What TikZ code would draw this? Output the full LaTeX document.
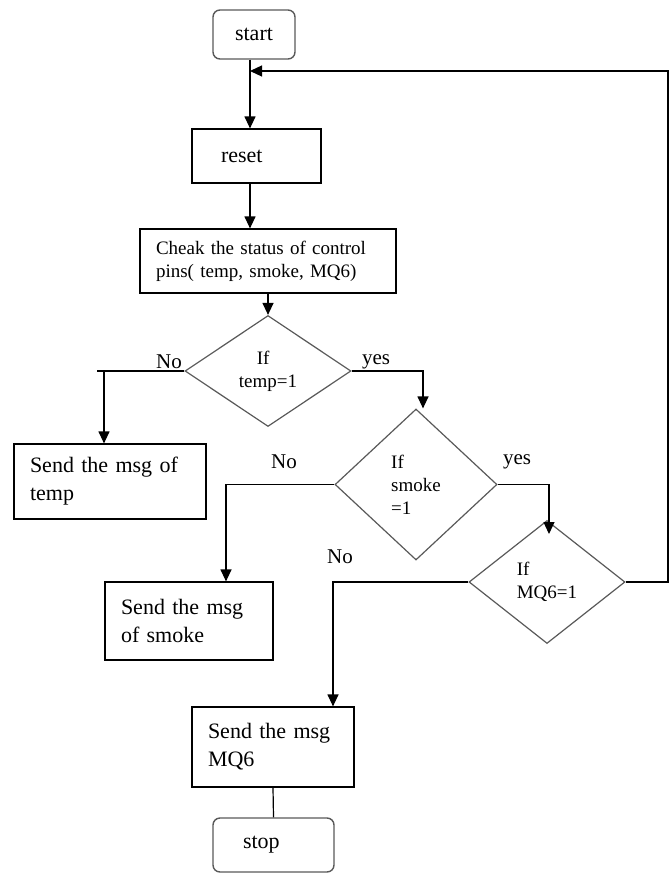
\documentclass[tikz,border=0pt]{standalone}
\usepackage{fontspec}
\setmainfont{Liberation Serif}
\usetikzlibrary{shapes.geometric,arrows.meta}
\newcommand{\fsbig}{\fontsize{22}{28}\selectfont}
\newcommand{\fsmid}{\fontsize{19}{23}\selectfont}
\begin{document}
\begin{tikzpicture}[x=1pt,y=-1pt,
  line width=1.2pt,
  arr/.style={-{Triangle[length=12pt,width=11pt]}},
  term/.style={draw=black!65, line width=1.4pt, rounded corners=7pt, font=\fsbig, inner sep=0pt},
  pbox/.style={draw=black, line width=1.2pt, rectangle, align=left, inner ysep=0pt},
  dec/.style={draw=black!65, line width=1.2pt, diamond, inner sep=0pt, font=\fsmid, align=left},
  lab/.style={font=\fontsize{21}{24}\selectfont, inner sep=0pt}
]
\useasboundingbox (0,0) rectangle (670,875);

% terminals
\node[term, minimum width=82pt, minimum height=49pt] (start) at (254,34.5) {start};
\node[term, minimum width=121pt, minimum height=54pt, text width=101pt, inner xsep=10pt, align=left] (stop) at (273.5,845) {\hspace{20pt}stop};

% process boxes
\node[pbox, minimum width=129pt, minimum height=54pt, text width=87pt, inner xsep=21pt, font=\fsbig] (reset) at (256.5,156) {\hspace{8pt}reset};
\node[pbox, minimum width=256pt, minimum height=64pt, text width=224pt, inner xsep=16pt, font=\fsmid] (check) at (268,261) {Cheak the status of control\\pins( temp, smoke, MQ6)};
\node[pbox, minimum width=192pt, minimum height=75pt, text width=160pt, inner xsep=16pt, font=\fsbig] (tbox) at (110,481.5) {Send the msg of\\temp};
\node[pbox, minimum width=168pt, minimum height=78pt, text width=136pt, inner xsep=16pt, font=\fsbig] (sbox) at (189,621) {Send the msg\\of smoke};
\node[pbox, minimum width=162pt, minimum height=80pt, text width=130pt, inner xsep=16pt, font=\fsbig] (mbox) at (273,747) {Send the msg\\MQ6};

% decisions
\node[dec, minimum width=166pt, minimum height=111pt] (temp) at (268,371) {\hspace{18pt}If\\temp=1};
\node[dec, minimum width=162pt, minimum height=151pt] (smoke) at (416,484.5) {If\\smoke\\=1};
\node[dec, minimum width=156pt, minimum height=123pt] (mq6) at (547,582) {If\\MQ6=1};

% helper coordinates
\coordinate (c1) at (250,0);
\coordinate (fb) at (250,71);
\coordinate (fbr) at (668,71);
\coordinate (n1) at (97,0);
\coordinate (n1a) at (104,0);
\coordinate (y1) at (423,0);
\coordinate (n2) at (226,0);
\coordinate (y2) at (549,0);
\coordinate (y2t) at (549,534);
\coordinate (n3) at (333,0);

% connectors
\draw[arr] (start.south -| c1) -- (reset.north -| c1);
\draw[arr] (reset.south -| c1) -- (check.north -| c1);
\draw[arr] (check.south -| temp.north) -- (temp.north);
\draw (temp.west) -- (temp.west -| n1);
\draw[arr] (temp.west -| n1a) -- (tbox.north -| n1a);
\draw[arr] (temp.east) -- (temp.east -| y1) -- (smoke.north -| y1);
\draw[arr] (smoke.west) -- (smoke.west -| n2) -- (sbox.north -| n2);
\draw[arr] (smoke.east) -- (smoke.east -| y2) -- (y2t);
\draw[arr] (mq6.west) -- (mq6.west -| n3) -- (mbox.north -| n3);
\draw (mbox.south) -- (stop.north);
\draw[arr] (mq6.east) -- (mq6.east -| fbr) -- (fbr) -- (fb);

% labels
\node[lab] (l1) at (169,362) {No};
\node[lab] (l2) at (376,362) {yes};
\node[lab] (l3) at (284,462) {No};
\node[lab] (l4) at (517,462) {yes};
\node[lab] (l5) at (340,557) {No};
\end{tikzpicture}
\end{document}
